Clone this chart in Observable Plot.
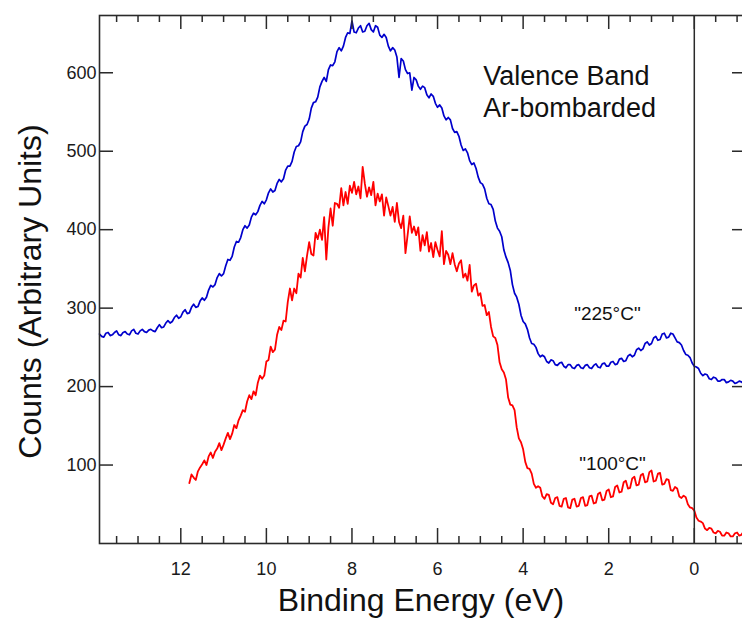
<!DOCTYPE html>
<html><head><meta charset="utf-8">
<script src="https://cdn.jsdelivr.net/npm/d3@7"></script>
<script src="https://cdn.jsdelivr.net/npm/@observablehq/plot@0.6"></script>
<style>html,body{margin:0;padding:0;background:#fff;overflow:hidden;} svg{display:block;}</style>
</head><body><div id="chart"></div>
<script>
// Binding energy grid (eV)
const energy = [
13.9,13.85,13.8,13.75,13.7,13.65,13.6,13.55,13.5,13.45,
13.4,13.35,13.3,13.25,13.2,13.15,13.1,13.05,13.0,12.95,
12.9,12.85,12.8,12.75,12.7,12.65,12.6,12.55,12.5,12.45,
12.4,12.35,12.3,12.25,12.2,12.15,12.1,12.05,12.0,11.95,
11.9,11.85,11.8,11.75,11.7,11.65,11.6,11.55,11.5,11.45,
11.4,11.35,11.3,11.25,11.2,11.15,11.1,11.05,11.0,10.95,
10.9,10.85,10.8,10.75,10.7,10.65,10.6,10.55,10.5,10.45,
10.4,10.35,10.3,10.25,10.2,10.15,10.1,10.05,10.0,9.95,
9.9,9.85,9.8,9.75,9.7,9.65,9.6,9.55,9.5,9.45,
9.4,9.35,9.3,9.25,9.2,9.15,9.1,9.05,9.0,8.95,
8.9,8.85,8.8,8.75,8.7,8.65,8.6,8.55,8.5,8.45,
8.4,8.35,8.3,8.25,8.2,8.15,8.1,8.05,8.0,7.95,
7.9,7.85,7.8,7.75,7.7,7.65,7.6,7.55,7.5,7.45,
7.4,7.35,7.3,7.25,7.2,7.15,7.1,7.05,7.0,6.95,
6.9,6.85,6.8,6.75,6.7,6.65,6.6,6.55,6.5,6.45,
6.4,6.35,6.3,6.25,6.2,6.15,6.1,6.05,6.0,5.95,
5.9,5.85,5.8,5.75,5.7,5.65,5.6,5.55,5.5,5.45,
5.4,5.35,5.3,5.25,5.2,5.15,5.1,5.05,5.0,4.95,
4.9,4.85,4.8,4.75,4.7,4.65,4.6,4.55,4.5,4.45,
4.4,4.35,4.3,4.25,4.2,4.15,4.1,4.05,4.0,3.95,
3.9,3.85,3.8,3.75,3.7,3.65,3.6,3.55,3.5,3.45,
3.4,3.35,3.3,3.25,3.2,3.15,3.1,3.05,3.0,2.95,
2.9,2.85,2.8,2.75,2.7,2.65,2.6,2.55,2.5,2.45,
2.4,2.35,2.3,2.25,2.2,2.15,2.1,2.05,2.0,1.95,
1.9,1.85,1.8,1.75,1.7,1.65,1.6,1.55,1.5,1.45,
1.4,1.35,1.3,1.25,1.2,1.15,1.1,1.05,1.0,0.95,
0.9,0.85,0.8,0.75,0.7,0.65,0.6,0.55,0.5,0.45,
0.4,0.35,0.3,0.25,0.2,0.15,0.1,0.05,0.0,-0.05,
-0.1,-0.15,-0.2,-0.25,-0.3,-0.35,-0.4,-0.45,-0.5,-0.55,
-0.6,-0.65,-0.7,-0.75,-0.8,-0.85,-0.9,-0.95,-1.0,-1.05,
-1.1,-1.15,-1.2
];
// "225°C" spectrum (blue)
const counts225 = [
267,264,263,268,269,265,266,269,271,266,
265,269,270,267,266,271,273,268,267,271,
273,270,269,272,273,271,270,275,279,275,
276,281,284,281,283,288,291,287,289,295,
298,293,294,301,305,301,302,309,313,310,
314,323,329,327,330,339,344,341,344,354,
362,361,366,378,385,384,390,400,405,402,
406,416,421,419,423,431,436,433,438,447,
452,448,450,459,464,461,465,476,481,481,
487,499,506,507,512,525,532,534,541,555,
562,563,569,582,589,594,589,604,610,609,
614,627,632,628,634,645,651,650,666,652,
651,657,660,652,653,660,663,655,652,660,
658,648,645,649,645,634,628,632,629,620,
594,618,615,604,599,600,578,594,591,583,
579,583,581,572,568,573,570,561,556,559,
555,545,540,543,540,529,524,525,519,508,
501,503,498,488,483,485,478,467,460,458,
452,440,433,432,426,411,402,398,391,374,
365,358,348,330,319,314,305,291,283,280,
273,262,255,254,250,242,238,240,238,232,
230,234,233,228,227,230,231,226,224,228,
228,224,223,227,228,224,223,227,228,224,
223,227,229,225,224,229,230,226,226,231,
232,228,229,235,236,232,233,239,241,238,
240,247,249,246,248,255,257,253,255,262,
264,259,260,267,268,262,263,268,267,262,
257,256,253,246,241,240,237,230,226,225,
223,217,214,216,215,210,209,212,211,207,
207,209,209,205,206,208,207,204,205,207,
206,204,204
];
// "100°C" spectrum (red)
const counts100 = [
null,null,null,null,null,null,null,null,null,null,
null,null,null,null,null,null,null,null,null,null,
null,null,null,null,null,null,null,null,null,null,
null,null,null,null,null,null,null,null,null,null,
null,null,77,88,84,81,92,97,101,106,
100,111,116,109,117,121,128,119,126,134,
141,133,140,151,147,157,163,170,168,181,
189,184,194,189,205,214,210,214,232,234,
251,244,247,266,276,272,284,283,308,325,
310,325,319,344,339,364,347,367,384,369,
367,396,388,400,387,416,362,403,427,405,
434,433,428,453,431,448,433,456,447,461,
445,455,440,480,459,442,454,444,461,431,
446,436,445,418,441,430,418,429,410,434,
410,402,418,370,393,417,396,404,393,403,
373,393,380,397,372,383,365,384,374,366,
398,356,373,368,356,370,356,347,357,361,
339,344,335,355,321,329,331,316,319,303,
304,291,295,276,264,262,253,231,222,218,
209,186,177,176,170,148,134,129,120,104,
96,95,89,76,71,73,71,60,57,63,
62,52,50,58,59,48,47,57,58,46,
45,56,57,47,48,58,59,48,49,60,
61,51,52,63,65,55,56,67,69,59,
60,72,74,65,66,78,80,70,71,83,
85,74,75,87,89,78,79,91,93,79,
80,89,90,75,76,82,81,68,67,72,
70,60,58,61,59,50,46,45,42,33,
29,28,26,19,17,20,19,14,13,16,
15,10,10,14,13,9,9,13,14,10,
11,15,14
];
const xMajorTicks = [12, 10, 8, 6, 4, 2, 0];
const xMinorTicks = [13.5,13,12.5,11.5,11,10.5,9.5,9,8.5,7.5,7,6.5,5.5,5,4.5,3.5,3,2.5,1.5,1,0.5,-0.5,-1];
const yTicks = [100, 200, 300, 400, 500, 600];
const xDomain = [13.9, -1.22];
const yDomain = [0, 673];
const titleLabels = [{x: 4.93, y: 577, text: "Valence Band\nAr-bombarded"}];
const seriesLabels = [
  {x: 2.03, y: 293, text: "\"225°C\""},
  {x: 1.91, y: 102, text: "\"100°C\""}
];
const yTitle = "Counts (Arbitrary Units)";
const xTitle = "Binding Energy (eV)";

const rows = energy.map((e, i) => ({e, c225: counts225[i], c100: counts100[i]}));
const W = 746, H = 621, mL = 99, mR = 0, mT = 15, mB = 78;
const plotW = W - mL - mR, plotH = H - mT - mB;
const ink = "#2a2a2a";

const chart = Plot.plot({
  width: W, height: H,
  marginLeft: mL, marginRight: mR, marginTop: mT, marginBottom: mB,
  x: {domain: xDomain, axis: null},
  y: {domain: yDomain, axis: null},
  style: {fontFamily: "'Liberation Sans', Arial, sans-serif", background: "white", overflow: "visible", maxWidth: "none"},
  marks: [
    Plot.line(rows, {x: "e", y: "c225", stroke: "#0000cc", strokeWidth: 1.7}),
    Plot.line(rows, {x: "e", y: "c100", stroke: "#ff0000", strokeWidth: 1.8}),
    Plot.ruleX([0], {stroke: ink, strokeWidth: 1.5}),
    Plot.frame({stroke: ink, strokeWidth: 1.6}),
    // bottom ticks
    Plot.ruleX(xMajorTicks, {x: d => d, insetTop: plotH - 15, stroke: ink, strokeWidth: 1.5}),
    Plot.ruleX(xMinorTicks, {x: d => d, insetTop: plotH - 7, stroke: ink, strokeWidth: 1.5}),
    // top ticks
    Plot.ruleX(xMajorTicks, {x: d => d, insetBottom: plotH - 14, stroke: ink, strokeWidth: 1.5}),
    Plot.ruleX(xMinorTicks, {x: d => d, insetBottom: plotH - 7, stroke: ink, strokeWidth: 1.5}),
    // left / right ticks
    Plot.ruleY(yTicks, {y: d => d, insetRight: plotW - 14, stroke: ink, strokeWidth: 1.5}),
    Plot.ruleY(yTicks, {y: d => d, insetLeft: plotW - 14, stroke: ink, strokeWidth: 1.5}),
    Plot.axisX({ticks: xMajorTicks, tickSize: 0, tickPadding: 19, fontSize: 18, label: null, tickFormat: d => String(d), fill: "#1a1a1a"}),
    Plot.axisY({ticks: yTicks, tickSize: 0, tickPadding: 3, fontSize: 18, label: null, tickFormat: d => String(d), fill: "#1a1a1a"}),
    Plot.text(titleLabels, {x: "x", y: "y", text: "text", textAnchor: "start", fontSize: 27, lineHeight: 1.2, fill: "#111"}),
    Plot.text(seriesLabels, {x: "x", y: "y", text: "text", fontSize: 19, fill: "#111"}),
    Plot.text([yTitle], {text: d => d, frameAnchor: "left", dx: -69, dy: 12, rotate: -90, textAnchor: "middle", lineAnchor: "middle", fontSize: 32, fill: "#111"}),
    Plot.text([xTitle], {text: d => d, frameAnchor: "bottom", dy: 57, dx: -2, textAnchor: "middle", lineAnchor: "middle", fontSize: 32, fill: "#111"})
  ]
});
document.getElementById("chart").append(chart);
</script>
</body></html>
